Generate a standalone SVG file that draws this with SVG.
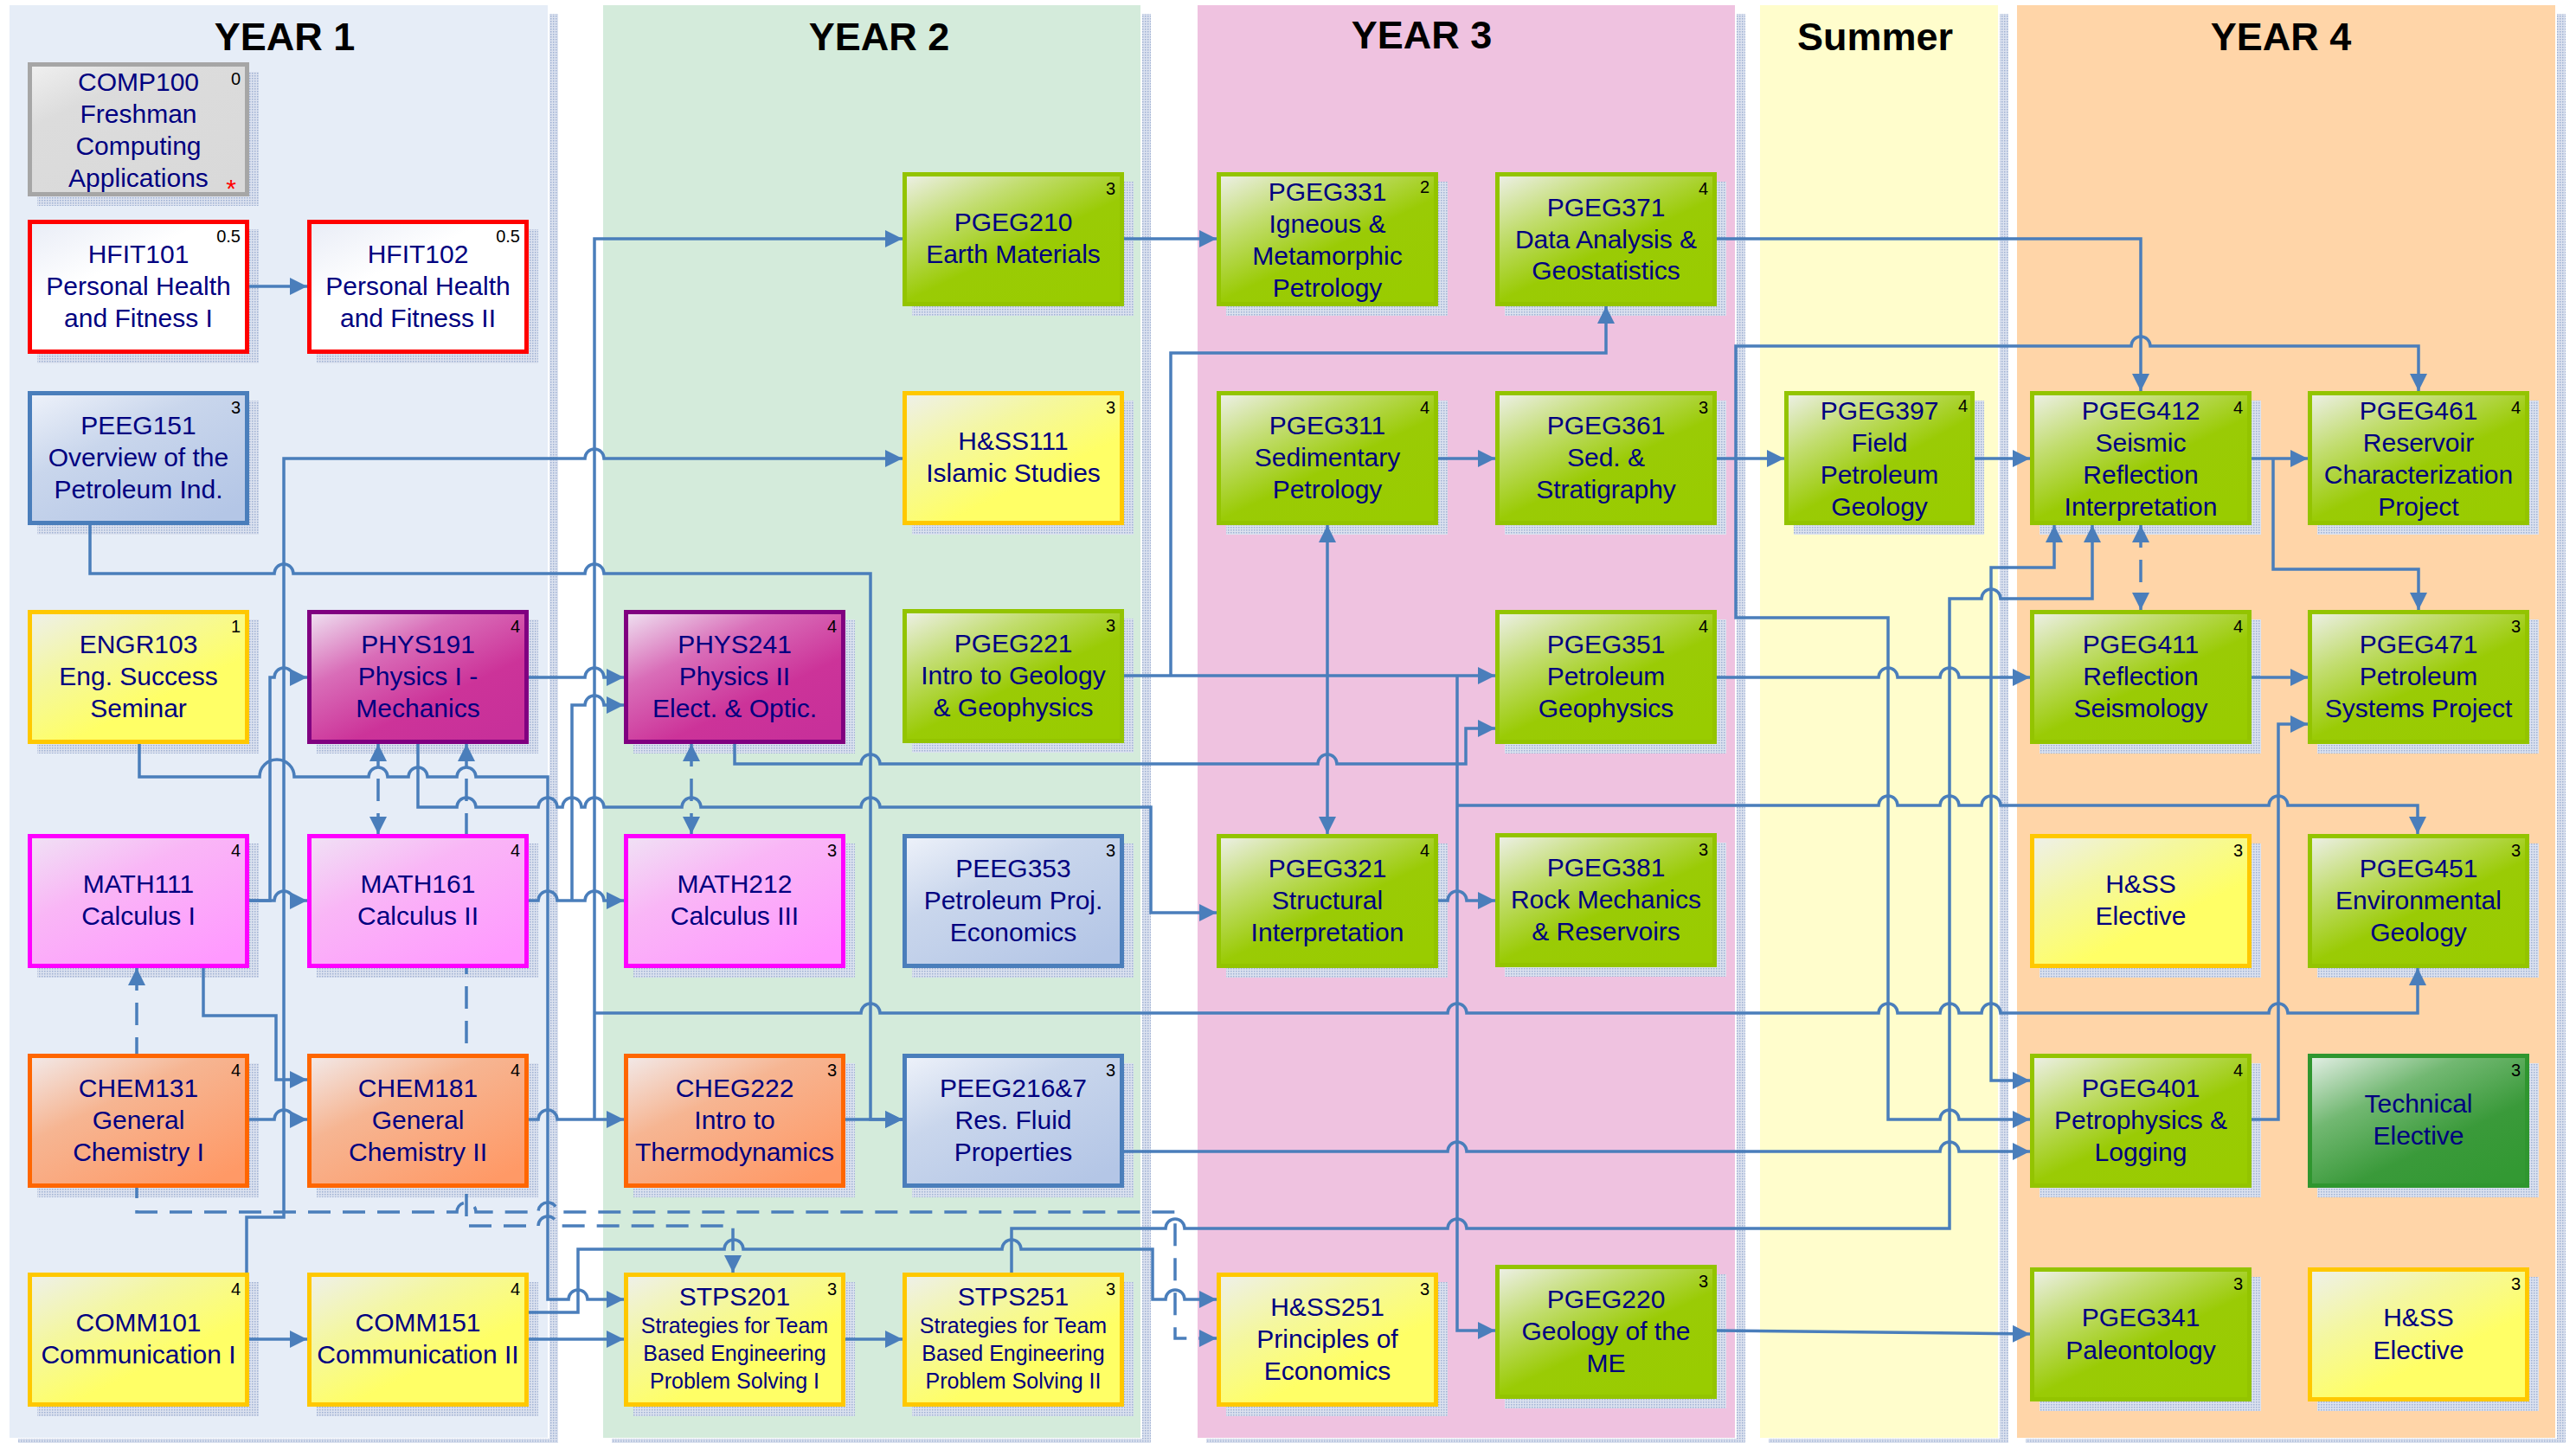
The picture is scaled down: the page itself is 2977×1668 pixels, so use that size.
<svg xmlns="http://www.w3.org/2000/svg" width="2977" height="1668" viewBox="0 0 2977 1668">
<defs>
<style>
.t{font-family:"Liberation Sans",Arial,sans-serif;font-size:30px;fill:#000080;text-anchor:middle}
.s{font-family:"Liberation Sans",Arial,sans-serif;font-size:25px;fill:#000080;text-anchor:middle}
.c{font-family:"Liberation Sans",Arial,sans-serif;font-size:20px;fill:#000;text-anchor:end}
.h{font-family:"Liberation Sans",Arial,sans-serif;font-size:45px;font-weight:bold;fill:#000;text-anchor:middle}
.cn{fill:none;stroke:#4A7EBB;stroke-width:3.5}
.dsh{fill:none;stroke:#4A7EBB;stroke-width:3.5;stroke-dasharray:26 14}
.ar{marker-end:url(#ah)}
.ar2{marker-start:url(#ah);marker-end:url(#ah)}
.gr{fill:url(#gGreen);stroke:#93C400;stroke-width:5}
.ye{fill:url(#gYellow);stroke:#FFC800;stroke-width:5}
.bl{fill:url(#gBlue);stroke:#4A7EBB;stroke-width:5}
.mg{fill:url(#gMag);stroke:#800080;stroke-width:5}
.pk{fill:url(#gPink);stroke:#FF00FF;stroke-width:5}
.or{fill:url(#gOrange);stroke:#FF6600;stroke-width:5}
.wh{fill:url(#gWhite);stroke:#FF0000;stroke-width:5}
.gy{fill:url(#gGray);stroke:#A6A6A6;stroke-width:5}
.dg{fill:url(#gDkGreen);stroke:#2F962F;stroke-width:5}
.sh{fill:url(#dots)}
</style>
<pattern id="dots" width="3" height="3" patternUnits="userSpaceOnUse"><rect width="3" height="3" fill="#DCE2EF"/><rect width="1.5" height="1.5" fill="#9FB1D3"/></pattern>
<marker id="ah" viewBox="0 0 20 20" refX="20" refY="10" markerWidth="20" markerHeight="20" markerUnits="userSpaceOnUse" orient="auto-start-reverse"><path d="M0,0 L20,10 L0,20 z" fill="#4A7EBB"/></marker>
<linearGradient id="gGreen" x1="0" y1="0" x2="0.8" y2="1"><stop offset="0" stop-color="#EEF0EA"/><stop offset="0.3" stop-color="#C2DD70"/><stop offset="0.6" stop-color="#9ACB05"/><stop offset="1" stop-color="#99CC00"/></linearGradient>
<linearGradient id="gYellow" x1="0" y1="0" x2="0.8" y2="1"><stop offset="0" stop-color="#EEF0EC"/><stop offset="0.35" stop-color="#F4F7A0"/><stop offset="0.7" stop-color="#FFFF66"/><stop offset="1" stop-color="#FFFF66"/></linearGradient>
<linearGradient id="gBlue" x1="0" y1="0" x2="0.8" y2="1"><stop offset="0" stop-color="#EEF2FA"/><stop offset="0.4" stop-color="#C9D6EC"/><stop offset="1" stop-color="#B4C6E6"/></linearGradient>
<linearGradient id="gMag" x1="0" y1="0" x2="0.8" y2="1"><stop offset="0" stop-color="#EFE3F2"/><stop offset="0.35" stop-color="#D96DB8"/><stop offset="0.7" stop-color="#CC3399"/><stop offset="1" stop-color="#C8309A"/></linearGradient>
<linearGradient id="gPink" x1="0" y1="0" x2="0.8" y2="1"><stop offset="0" stop-color="#F0E2F5"/><stop offset="0.4" stop-color="#F9B6F6"/><stop offset="1" stop-color="#FF99FF"/></linearGradient>
<linearGradient id="gOrange" x1="0" y1="0" x2="0.8" y2="1"><stop offset="0" stop-color="#F2EAEA"/><stop offset="0.4" stop-color="#F6B592"/><stop offset="1" stop-color="#FF9966"/></linearGradient>
<linearGradient id="gWhite" x1="0" y1="0" x2="0.8" y2="1"><stop offset="0" stop-color="#E8ECF6"/><stop offset="0.4" stop-color="#FFFFFF"/><stop offset="1" stop-color="#FFFFFF"/></linearGradient>
<linearGradient id="gGray" x1="0" y1="0" x2="0.8" y2="1"><stop offset="0" stop-color="#F0F0F0"/><stop offset="0.3" stop-color="#DCDCDC"/><stop offset="1" stop-color="#D9D9D9"/></linearGradient>
<linearGradient id="gDkGreen" x1="0" y1="0" x2="0.8" y2="1"><stop offset="0" stop-color="#E6F0E8"/><stop offset="0.35" stop-color="#72B872"/><stop offset="0.7" stop-color="#3A9A3A"/><stop offset="1" stop-color="#339933"/></linearGradient>
</defs>
<rect width="2977" height="1668" fill="#FFFFFF"/>
<g id="lanes">
<rect x="11" y="6" width="622" height="1656" fill="#E6EDF7"/>
<rect x="635" y="16" width="10" height="1652" class="sh"/><rect x="21" y="1663" width="614" height="5" class="sh"/>
<rect x="697" y="6" width="621" height="1656" fill="#D4EBDB"/>
<rect x="1320" y="16" width="10" height="1652" class="sh"/><rect x="707" y="1663" width="613" height="5" class="sh"/>
<rect x="1384" y="6" width="621" height="1656" fill="#EFC2E0"/>
<rect x="2007" y="16" width="10" height="1652" class="sh"/><rect x="1394" y="1663" width="613" height="5" class="sh"/>
<rect x="2034" y="6" width="275" height="1656" fill="#FFFDCC"/>
<rect x="2311" y="16" width="10" height="1652" class="sh"/><rect x="2044" y="1663" width="267" height="5" class="sh"/>
<rect x="2331" y="6" width="622" height="1656" fill="#FFD5A8"/>
<rect x="2955" y="16" width="10" height="1652" class="sh"/><rect x="2341" y="1663" width="614" height="5" class="sh"/>
<text class="h" x="329" y="58">YEAR 1</text>
<text class="h" x="1016" y="58">YEAR 2</text>
<text class="h" x="1643" y="56">YEAR 3</text>
<text class="h" x="2167" y="58">Summer</text>
<text class="h" x="2636" y="58">YEAR 4</text>
</g>
<g id="shadows">
<rect class="sh" x="43" y="83" width="256" height="155"/>
<rect class="sh" x="43" y="265" width="256" height="155"/>
<rect class="sh" x="366" y="265" width="256" height="155"/>
<rect class="sh" x="43" y="463" width="256" height="155"/>
<rect class="sh" x="43" y="716" width="256" height="155"/>
<rect class="sh" x="366" y="716" width="256" height="155"/>
<rect class="sh" x="732" y="716" width="256" height="155"/>
<rect class="sh" x="43" y="975" width="256" height="155"/>
<rect class="sh" x="366" y="975" width="256" height="155"/>
<rect class="sh" x="732" y="975" width="256" height="155"/>
<rect class="sh" x="43" y="1229" width="256" height="155"/>
<rect class="sh" x="366" y="1229" width="256" height="155"/>
<rect class="sh" x="732" y="1229" width="256" height="155"/>
<rect class="sh" x="43" y="1482" width="256" height="155"/>
<rect class="sh" x="366" y="1482" width="256" height="155"/>
<rect class="sh" x="732" y="1482" width="256" height="155"/>
<rect class="sh" x="1054" y="210" width="256" height="155"/>
<rect class="sh" x="1054" y="463" width="256" height="155"/>
<rect class="sh" x="1054" y="715" width="256" height="155"/>
<rect class="sh" x="1054" y="975" width="256" height="155"/>
<rect class="sh" x="1054" y="1229" width="256" height="155"/>
<rect class="sh" x="1054" y="1482" width="256" height="155"/>
<rect class="sh" x="1417" y="210" width="256" height="155"/>
<rect class="sh" x="1417" y="463" width="256" height="155"/>
<rect class="sh" x="1417" y="975" width="256" height="155"/>
<rect class="sh" x="1417" y="1482" width="256" height="155"/>
<rect class="sh" x="1739" y="210" width="256" height="155"/>
<rect class="sh" x="1739" y="463" width="256" height="155"/>
<rect class="sh" x="1739" y="716" width="256" height="155"/>
<rect class="sh" x="1739" y="974" width="256" height="155"/>
<rect class="sh" x="1739" y="1473" width="256" height="155"/>
<rect class="sh" x="2073" y="463" width="220" height="155"/>
<rect class="sh" x="2357" y="463" width="256" height="155"/>
<rect class="sh" x="2357" y="716" width="256" height="155"/>
<rect class="sh" x="2357" y="975" width="256" height="155"/>
<rect class="sh" x="2357" y="1229" width="256" height="155"/>
<rect class="sh" x="2357" y="1476" width="256" height="155"/>
<rect class="sh" x="2678" y="463" width="256" height="155"/>
<rect class="sh" x="2678" y="716" width="256" height="155"/>
<rect class="sh" x="2678" y="975" width="256" height="155"/>
<rect class="sh" x="2678" y="1229" width="256" height="155"/>
<rect class="sh" x="2678" y="1476" width="256" height="155"/>
</g>
<g id="connectors">
<path class="cn ar" d="M288 331 H355"/>
<path class="cn ar" d="M285 1597 V1407 H328 V530 H676 A11 11 0 0 1 698 530 H1043"/>
<path class="cn ar" d="M104 607 V663 H317 A11 11 0 0 1 339 663 H676 A11 11 0 0 1 698 663 H1006 V1294 H1043"/>
<path class="cn ar" d="M977 1294 H1043"/>
<path class="cn ar" d="M161 860 V898 H300 A20 20 0 0 1 340 898 H426 A11 11 0 0 1 448 898 H472 A11 11 0 0 1 494 898 H528 A11 11 0 0 1 550 898 H633 V1502 H657 A11 11 0 0 1 679 1502 H721"/>
<path class="cn ar" d="M611 783 H676 A11 11 0 0 1 698 783 H721"/>
<path class="cn ar" d="M288 1041 H312 V783 H317 A11 11 0 0 1 339 783 H355"/>
<path class="cn ar" d="M288 1041 H317 A11 11 0 0 1 339 1041 H355"/>
<path class="cn ar" d="M235 1119 V1174 H319 V1248 H355"/>
<path class="cn ar" d="M288 1294 H317 A11 11 0 0 1 339 1294 H355"/>
<path class="cn ar" d="M611 1294 H622 A11 11 0 0 1 644 1294 H721"/>
<path class="cn ar" d="M687 1294 V276 H1043"/>
<path class="cn ar" d="M687 1171 H995 A11 11 0 0 1 1017 1171 H1673 A11 11 0 0 1 1695 1171 H2171 A11 11 0 0 1 2193 1171 H2242 A11 11 0 0 1 2264 1171 H2290 A11 11 0 0 1 2312 1171 H2622 A11 11 0 0 1 2644 1171 H2794 V1119"/>
<path class="cn ar" d="M611 1041 H622 A11 11 0 0 1 644 1041 H676 A11 11 0 0 1 698 1041 H721"/>
<path class="cn ar" d="M661 1041 V815 H676 A11 11 0 0 1 698 815 H721"/>
<path class="dsh ar2" d="M437 860 V964"/>
<path class="dsh ar2" d="M799 860 V964"/>
<path class="cn ar" d="M483 860 V933 H528 A11 11 0 0 1 550 933 H622 A11 11 0 0 1 644 933 H650 A11 11 0 0 1 672 933 H676 A11 11 0 0 1 698 933 H788 A11 11 0 0 1 810 933 H995 A11 11 0 0 1 1017 933 H1330 V1055 H1406"/>
<path class="cn ar" d="M849 860 V883 H995 A11 11 0 0 1 1017 883 H1523 A11 11 0 0 1 1545 883 H1694 V842 H1728"/>
<path class="cn ar" d="M1299 781 H1728"/>
<path class="cn ar" d="M1353 781 V408 H1856 V354"/>
<path class="cn ar" d="M1534 781 V607"/>
<path class="cn ar" d="M1534 781 V964"/>
<path class="cn ar" d="M1684 781 V1538 H1728"/>
<path class="cn ar" d="M1684 931 H2171 A11 11 0 0 1 2193 931 H2242 A11 11 0 0 1 2264 931 H2290 A11 11 0 0 1 2312 931 H2622 A11 11 0 0 1 2644 931 H2794 V964"/>
<path class="cn ar" d="M1299 276 H1406"/>
<path class="cn ar" d="M1984 276 H2474 V452"/>
<path class="cn ar" d="M1984 530 H2062"/>
<path class="cn ar" d="M2006 530 V400 H2463 A11 11 0 0 1 2485 400 H2795 V452"/>
<path class="cn ar" d="M2006 530 V714 H2182 V1294 H2242 A11 11 0 0 1 2264 1294 H2346"/>
<path class="cn ar" d="M1662 530 H1728"/>
<path class="cn ar" d="M2282 530 H2346"/>
<path class="cn ar" d="M2602 530 H2667"/>
<path class="cn ar" d="M2627 530 V658 H2795 V705"/>
<path class="dsh ar2" d="M2474 607 V705"/>
<path class="cn ar" d="M1984 783 H2171 A11 11 0 0 1 2193 783 H2242 A11 11 0 0 1 2264 783 H2346"/>
<path class="cn ar" d="M2301 783 V656 H2374 V607"/>
<path class="cn ar" d="M2301 783 V1249 H2346"/>
<path class="cn ar" d="M1169 1471 V1420 H1347 A11 11 0 0 1 1369 1420 H1673 A11 11 0 0 1 1695 1420 H2253 V692 H2290 A11 11 0 0 1 2312 692 H2418 V607"/>
<path class="cn ar" d="M611 1517 H668 V1444 H837 A11 11 0 0 1 859 1444 H1158 A11 11 0 0 1 1180 1444 H1332 V1502 H1347 A11 11 0 0 1 1369 1502 H1406"/>
<path class="cn ar" d="M288 1548 H355"/>
<path class="cn ar" d="M611 1548 H721"/>
<path class="cn ar" d="M977 1548 H1043"/>
<path class="dsh ar2" d="M158 1119 V1401 H528 A11 11 0 0 1 550 1401 H622 A11 11 0 0 1 644 1401 H1358 V1547 H1406"/>
<path class="dsh ar2" d="M539 860 V1417 H622 A11 11 0 0 1 644 1417 H847 V1471"/>
<path class="cn ar" d="M1299 1331 H1673 A11 11 0 0 1 1695 1331 H2242 A11 11 0 0 1 2264 1331 H2346"/>
<path class="cn ar" d="M2602 1294 H2633 V837 H2667"/>
<path class="cn ar" d="M2602 783 H2667"/>
<path class="cn ar" d="M1662 1041 H1673 A11 11 0 0 1 1695 1041 H1728"/>
<path class="cn ar" d="M1984 1538 L2346 1542"/>
</g>
<g id="comp100"><rect class="gy" x="34.5" y="74.5" width="251" height="150"/><text class="t" x="160" y="105">COMP100</text><text class="t" x="160" y="142">Freshman</text><text class="t" x="160" y="179">Computing</text><text class="t" x="160" y="216">Applications</text><text class="c" x="278" y="98">0</text><text x="267" y="228" font-family="Liberation Sans, Arial, sans-serif" font-size="30" fill="#FF0000" text-anchor="middle">*</text></g>
<g id="hfit101"><rect class="wh" x="34.5" y="256.5" width="251" height="150"/><text class="t" x="160" y="304">HFIT101</text><text class="t" x="160" y="341">Personal Health</text><text class="t" x="160" y="378">and Fitness I</text><text class="c" x="278" y="280">0.5</text></g>
<g id="hfit102"><rect class="wh" x="357.5" y="256.5" width="251" height="150"/><text class="t" x="483" y="304">HFIT102</text><text class="t" x="483" y="341">Personal Health</text><text class="t" x="483" y="378">and Fitness II</text><text class="c" x="601" y="280">0.5</text></g>
<g id="peeg151"><rect class="bl" x="34.5" y="454.5" width="251" height="150"/><text class="t" x="160" y="502">PEEG151</text><text class="t" x="160" y="539">Overview of the</text><text class="t" x="160" y="576">Petroleum Ind.</text><text class="c" x="278" y="478">3</text></g>
<g id="engr103"><rect class="ye" x="34.5" y="707.5" width="251" height="150"/><text class="t" x="160" y="755">ENGR103</text><text class="t" x="160" y="792">Eng. Success</text><text class="t" x="160" y="829">Seminar</text><text class="c" x="278" y="731">1</text></g>
<g id="phys191"><rect class="mg" x="357.5" y="707.5" width="251" height="150"/><text class="t" x="483" y="755">PHYS191</text><text class="t" x="483" y="792">Physics I -</text><text class="t" x="483" y="829">Mechanics</text><text class="c" x="601" y="731">4</text></g>
<g id="phys241"><rect class="mg" x="723.5" y="707.5" width="251" height="150"/><text class="t" x="849" y="755">PHYS241</text><text class="t" x="849" y="792">Physics II</text><text class="t" x="849" y="829">Elect. &amp; Optic.</text><text class="c" x="967" y="731">4</text></g>
<g id="math111"><rect class="pk" x="34.5" y="966.5" width="251" height="150"/><text class="t" x="160" y="1032">MATH111</text><text class="t" x="160" y="1069">Calculus I</text><text class="c" x="278" y="990">4</text></g>
<g id="math161"><rect class="pk" x="357.5" y="966.5" width="251" height="150"/><text class="t" x="483" y="1032">MATH161</text><text class="t" x="483" y="1069">Calculus II</text><text class="c" x="601" y="990">4</text></g>
<g id="math212"><rect class="pk" x="723.5" y="966.5" width="251" height="150"/><text class="t" x="849" y="1032">MATH212</text><text class="t" x="849" y="1069">Calculus III</text><text class="c" x="967" y="990">3</text></g>
<g id="chem131"><rect class="or" x="34.5" y="1220.5" width="251" height="150"/><text class="t" x="160" y="1268">CHEM131</text><text class="t" x="160" y="1305">General</text><text class="t" x="160" y="1342">Chemistry I</text><text class="c" x="278" y="1244">4</text></g>
<g id="chem181"><rect class="or" x="357.5" y="1220.5" width="251" height="150"/><text class="t" x="483" y="1268">CHEM181</text><text class="t" x="483" y="1305">General</text><text class="t" x="483" y="1342">Chemistry II</text><text class="c" x="601" y="1244">4</text></g>
<g id="cheg222"><rect class="or" x="723.5" y="1220.5" width="251" height="150"/><text class="t" x="849" y="1268">CHEG222</text><text class="t" x="849" y="1305">Intro to</text><text class="t" x="849" y="1342">Thermodynamics</text><text class="c" x="967" y="1244">3</text></g>
<g id="comm101"><rect class="ye" x="34.5" y="1473.5" width="251" height="150"/><text class="t" x="160" y="1539">COMM101</text><text class="t" x="160" y="1576">Communication I</text><text class="c" x="278" y="1497">4</text></g>
<g id="comm151"><rect class="ye" x="357.5" y="1473.5" width="251" height="150"/><text class="t" x="483" y="1539">COMM151</text><text class="t" x="483" y="1576">Communication II</text><text class="c" x="601" y="1497">4</text></g>
<g id="stps201"><rect class="ye" x="723.5" y="1473.5" width="251" height="150"/><text class="t" x="849" y="1509">STPS201</text><text class="s" x="849" y="1541">Strategies for Team</text><text class="s" x="849" y="1573">Based Engineering</text><text class="s" x="849" y="1605">Problem Solving I</text><text class="c" x="967" y="1497">3</text></g>
<g id="pgeg210"><rect class="gr" x="1045.5" y="201.5" width="251" height="150"/><text class="t" x="1171" y="267">PGEG210</text><text class="t" x="1171" y="304">Earth Materials</text><text class="c" x="1289" y="225">3</text></g>
<g id="hss111"><rect class="ye" x="1045.5" y="454.5" width="251" height="150"/><text class="t" x="1171" y="520">H&amp;SS111</text><text class="t" x="1171" y="557">Islamic Studies</text><text class="c" x="1289" y="478">3</text></g>
<g id="pgeg221"><rect class="gr" x="1045.5" y="706.5" width="251" height="150"/><text class="t" x="1171" y="754">PGEG221</text><text class="t" x="1171" y="791">Intro to Geology</text><text class="t" x="1171" y="828">&amp; Geophysics</text><text class="c" x="1289" y="730">3</text></g>
<g id="peeg353"><rect class="bl" x="1045.5" y="966.5" width="251" height="150"/><text class="t" x="1171" y="1014">PEEG353</text><text class="t" x="1171" y="1051">Petroleum Proj.</text><text class="t" x="1171" y="1088">Economics</text><text class="c" x="1289" y="990">3</text></g>
<g id="peeg2167"><rect class="bl" x="1045.5" y="1220.5" width="251" height="150"/><text class="t" x="1171" y="1268">PEEG216&amp;7</text><text class="t" x="1171" y="1305">Res. Fluid</text><text class="t" x="1171" y="1342">Properties</text><text class="c" x="1289" y="1244">3</text></g>
<g id="stps251"><rect class="ye" x="1045.5" y="1473.5" width="251" height="150"/><text class="t" x="1171" y="1509">STPS251</text><text class="s" x="1171" y="1541">Strategies for Team</text><text class="s" x="1171" y="1573">Based Engineering</text><text class="s" x="1171" y="1605">Problem Solving II</text><text class="c" x="1289" y="1497">3</text></g>
<g id="pgeg331"><rect class="gr" x="1408.5" y="201.5" width="251" height="150"/><text class="t" x="1534" y="232">PGEG331</text><text class="t" x="1534" y="269">Igneous &amp;</text><text class="t" x="1534" y="306">Metamorphic</text><text class="t" x="1534" y="343">Petrology</text><text class="c" x="1652" y="223">2</text></g>
<g id="pgeg311"><rect class="gr" x="1408.5" y="454.5" width="251" height="150"/><text class="t" x="1534" y="502">PGEG311</text><text class="t" x="1534" y="539">Sedimentary</text><text class="t" x="1534" y="576">Petrology</text><text class="c" x="1652" y="478">4</text></g>
<g id="pgeg321"><rect class="gr" x="1408.5" y="966.5" width="251" height="150"/><text class="t" x="1534" y="1014">PGEG321</text><text class="t" x="1534" y="1051">Structural</text><text class="t" x="1534" y="1088">Interpretation</text><text class="c" x="1652" y="990">4</text></g>
<g id="hss251"><rect class="ye" x="1408.5" y="1473.5" width="251" height="150"/><text class="t" x="1534" y="1521">H&amp;SS251</text><text class="t" x="1534" y="1558">Principles of</text><text class="t" x="1534" y="1595">Economics</text><text class="c" x="1652" y="1497">3</text></g>
<g id="pgeg371"><rect class="gr" x="1730.5" y="201.5" width="251" height="150"/><text class="t" x="1856" y="250">PGEG371</text><text class="t" x="1856" y="287">Data Analysis &amp;</text><text class="t" x="1856" y="323">Geostatistics</text><text class="c" x="1974" y="225">4</text></g>
<g id="pgeg361"><rect class="gr" x="1730.5" y="454.5" width="251" height="150"/><text class="t" x="1856" y="502">PGEG361</text><text class="t" x="1856" y="539">Sed. &amp;</text><text class="t" x="1856" y="576">Stratigraphy</text><text class="c" x="1974" y="478">3</text></g>
<g id="pgeg351"><rect class="gr" x="1730.5" y="707.5" width="251" height="150"/><text class="t" x="1856" y="755">PGEG351</text><text class="t" x="1856" y="792">Petroleum</text><text class="t" x="1856" y="829">Geophysics</text><text class="c" x="1974" y="731">4</text></g>
<g id="pgeg381"><rect class="gr" x="1730.5" y="965.5" width="251" height="150"/><text class="t" x="1856" y="1013">PGEG381</text><text class="t" x="1856" y="1050">Rock Mechanics</text><text class="t" x="1856" y="1087">&amp; Reservoirs</text><text class="c" x="1974" y="989">3</text></g>
<g id="pgeg220"><rect class="gr" x="1730.5" y="1464.5" width="251" height="150"/><text class="t" x="1856" y="1512">PGEG220</text><text class="t" x="1856" y="1549">Geology of the</text><text class="t" x="1856" y="1586">ME</text><text class="c" x="1974" y="1488">3</text></g>
<g id="pgeg397"><rect class="gr" x="2064.5" y="454.5" width="215" height="150"/><text class="t" x="2172" y="485">PGEG397</text><text class="t" x="2172" y="522">Field</text><text class="t" x="2172" y="559">Petroleum</text><text class="t" x="2172" y="596">Geology</text><text class="c" x="2274" y="476">4</text></g>
<g id="pgeg412"><rect class="gr" x="2348.5" y="454.5" width="251" height="150"/><text class="t" x="2474" y="485">PGEG412</text><text class="t" x="2474" y="522">Seismic</text><text class="t" x="2474" y="559">Reflection</text><text class="t" x="2474" y="596">Interpretation</text><text class="c" x="2592" y="478">4</text></g>
<g id="pgeg411"><rect class="gr" x="2348.5" y="707.5" width="251" height="150"/><text class="t" x="2474" y="755">PGEG411</text><text class="t" x="2474" y="792">Reflection</text><text class="t" x="2474" y="829">Seismology</text><text class="c" x="2592" y="731">4</text></g>
<g id="hss-elective-1"><rect class="ye" x="2348.5" y="966.5" width="251" height="150"/><text class="t" x="2474" y="1032">H&amp;SS</text><text class="t" x="2474" y="1069">Elective</text><text class="c" x="2592" y="990">3</text></g>
<g id="pgeg401"><rect class="gr" x="2348.5" y="1220.5" width="251" height="150"/><text class="t" x="2474" y="1268">PGEG401</text><text class="t" x="2474" y="1305">Petrophysics &amp;</text><text class="t" x="2474" y="1342">Logging</text><text class="c" x="2592" y="1244">4</text></g>
<g id="pgeg341"><rect class="gr" x="2348.5" y="1467.5" width="251" height="150"/><text class="t" x="2474" y="1533">PGEG341</text><text class="t" x="2474" y="1571">Paleontology</text><text class="c" x="2592" y="1491">3</text></g>
<g id="pgeg461"><rect class="gr" x="2669.5" y="454.5" width="251" height="150"/><text class="t" x="2795" y="485">PGEG461</text><text class="t" x="2795" y="522">Reservoir</text><text class="t" x="2795" y="559">Characterization</text><text class="t" x="2795" y="596">Project</text><text class="c" x="2913" y="478">4</text></g>
<g id="pgeg471"><rect class="gr" x="2669.5" y="707.5" width="251" height="150"/><text class="t" x="2795" y="755">PGEG471</text><text class="t" x="2795" y="792">Petroleum</text><text class="t" x="2795" y="829">Systems Project</text><text class="c" x="2913" y="731">3</text></g>
<g id="pgeg451"><rect class="gr" x="2669.5" y="966.5" width="251" height="150"/><text class="t" x="2795" y="1014">PGEG451</text><text class="t" x="2795" y="1051">Environmental</text><text class="t" x="2795" y="1088">Geology</text><text class="c" x="2913" y="990">3</text></g>
<g id="technical-elective"><rect class="dg" x="2669.5" y="1220.5" width="251" height="150"/><text class="t" x="2795" y="1286">Technical</text><text class="t" x="2795" y="1323">Elective</text><text class="c" x="2913" y="1244">3</text></g>
<g id="hss-elective-2"><rect class="ye" x="2669.5" y="1467.5" width="251" height="150"/><text class="t" x="2795" y="1533">H&amp;SS</text><text class="t" x="2795" y="1571">Elective</text><text class="c" x="2913" y="1491">3</text></g>
</svg>
